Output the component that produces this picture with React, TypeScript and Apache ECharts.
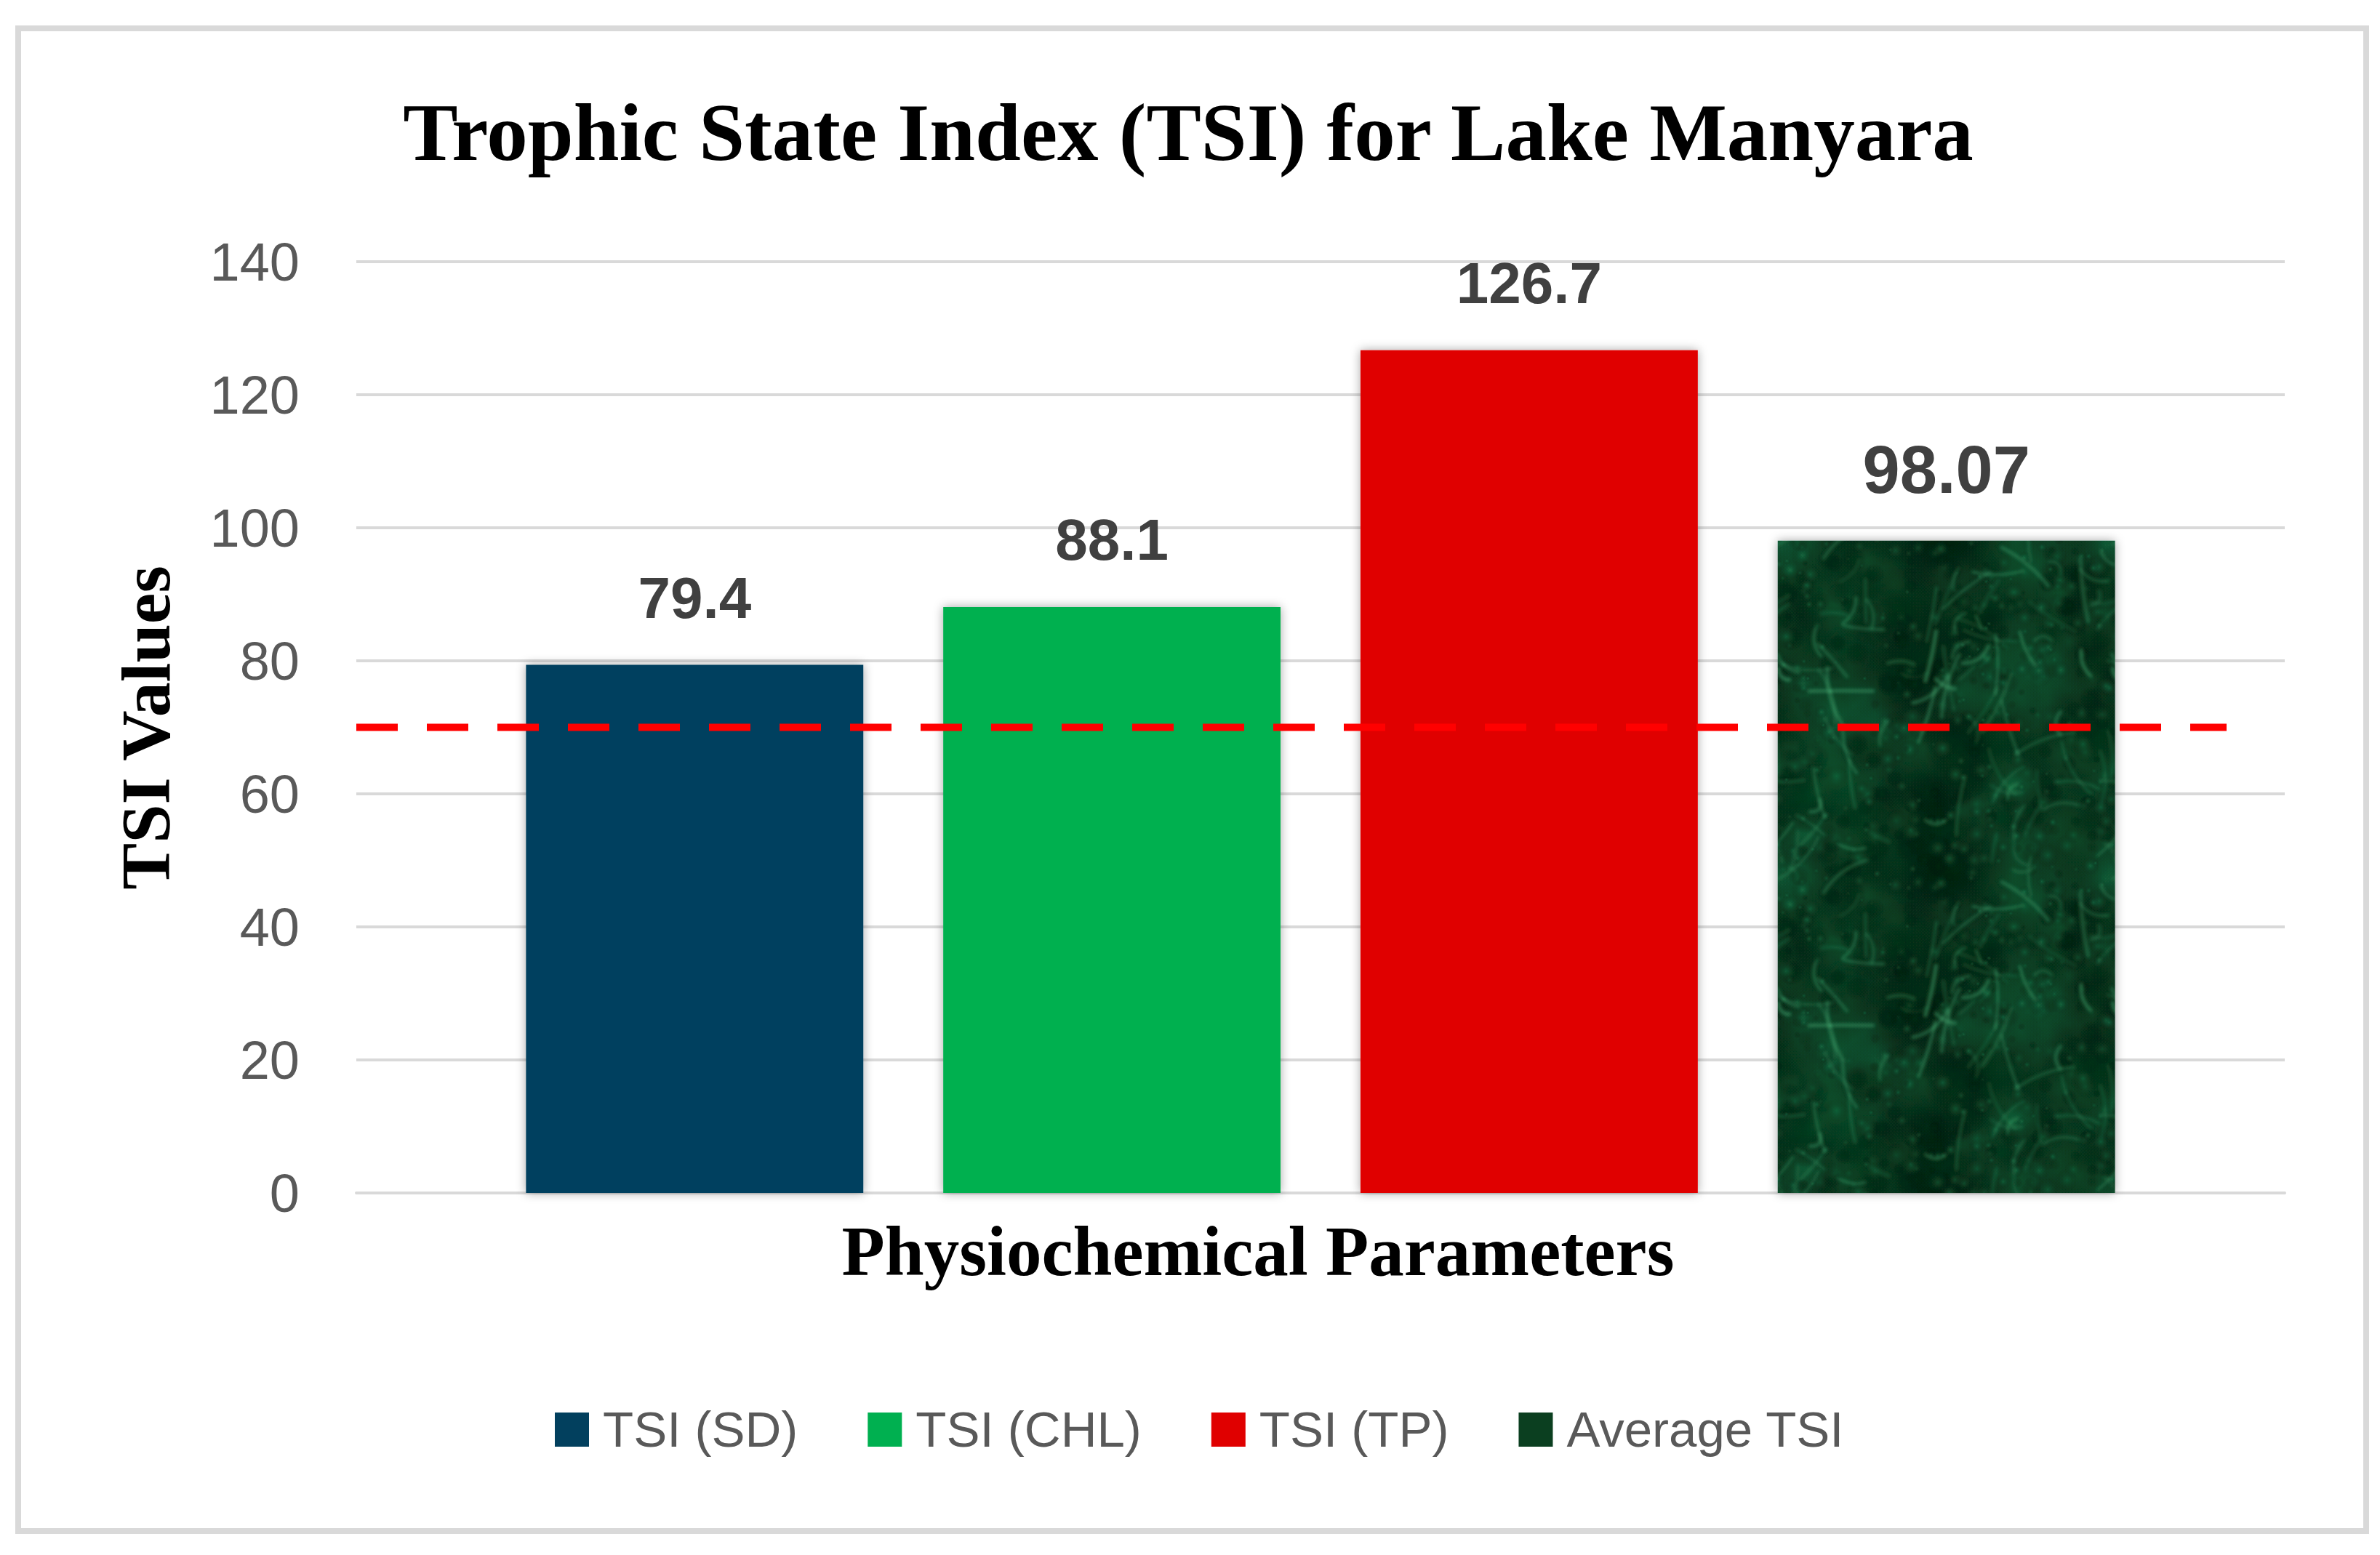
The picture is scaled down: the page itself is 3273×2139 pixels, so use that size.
import React, { useEffect, useRef } from 'react';
import * as echarts from 'echarts';

// ---------- data ----------
const chartTitle = 'Trophic State Index (TSI) for Lake Manyara';
const xAxisTitle = 'Physiochemical Parameters';
const yAxisTitle = 'TSI Values';
const categories = ['Physiochemical Parameters'];
const seriesNames = ['TSI (SD)', 'TSI (CHL)', 'TSI (TP)', 'Average TSI'];
const tsiValues = [79.4, 88.1, 126.7, 98.07];
const yMin = 0;
const yMax = 140;
const yStep = 20;
const thresholdValue = 70;

// ---------- styles ----------
const solidColors = ['#02405E', '#00B050', '#E00000', '#0B3F20'];
const TEX = 460;

function makeTexture(): string {
  const W = TEX, H = TEX;
  const c = document.createElement('canvas');
  c.width = W;
  c.height = H;
  const ctx = c.getContext('2d');
  if (!ctx) return '';
  ctx.fillStyle = '#0A5C34';
  ctx.fillRect(0, 0, W, H);
  let s = 424242;
  const rnd = () => {
    s = (s * 1103515245 + 12345) & 0x7fffffff;
    return s / 0x7fffffff;
  };
  const wrap = (fn: (ox: number, oy: number) => void) => {
    for (const ox of [-W, 0, W]) for (const oy of [-H, 0, H]) fn(ox, oy);
  };
  for (let i = 0; i < 220; i++) {
    const x = rnd() * W, y = rnd() * H, r = 20 + rnd() * 80;
    const light = rnd() < 0.45;
    const col = light
      ? `rgba(30,140,85,${0.12 + rnd() * 0.22})`
      : `rgba(0,48,18,${0.18 + rnd() * 0.3})`;
    wrap((ox, oy) => {
      const g = ctx.createRadialGradient(x + ox, y + oy, 0, x + ox, y + oy, r);
      g.addColorStop(0, col);
      g.addColorStop(1, 'rgba(0,0,0,0)');
      ctx.fillStyle = g;
      ctx.beginPath();
      ctx.arc(x + ox, y + oy, r, 0, Math.PI * 2);
      ctx.fill();
    });
  }
  for (let i = 0; i < 500; i++) {
    const x = rnd() * W, y = rnd() * H, r = 4 + rnd() * 14;
    const light = rnd() < 0.5;
    const col = light
      ? `rgba(35,150,95,${0.15 + rnd() * 0.25})`
      : `rgba(0,45,18,${0.2 + rnd() * 0.3})`;
    wrap((ox, oy) => {
      const g = ctx.createRadialGradient(x + ox, y + oy, 0, x + ox, y + oy, r);
      g.addColorStop(0, col);
      g.addColorStop(1, 'rgba(0,0,0,0)');
      ctx.fillStyle = g;
      ctx.beginPath();
      ctx.arc(x + ox, y + oy, r, 0, Math.PI * 2);
      ctx.fill();
    });
  }
  ctx.lineCap = 'round';
  ctx.filter = 'blur(2px)';
  for (let i = 0; i < 90; i++) {
    const x = rnd() * W, y = rnd() * H, len = 20 + rnd() * 70, a = rnd() * Math.PI * 2;
    const bend = (rnd() - 0.5) * 30;
    const x2 = x + Math.cos(a) * len, y2 = y + Math.sin(a) * len;
    const cx = (x + x2) / 2 + Math.cos(a + Math.PI / 2) * bend;
    const cy = (y + y2) / 2 + Math.sin(a + Math.PI / 2) * bend;
    ctx.strokeStyle = `rgba(80,185,125,${0.15 + rnd() * 0.3})`;
    ctx.lineWidth = 2 + rnd() * 4;
    wrap((ox, oy) => {
      ctx.beginPath();
      ctx.moveTo(x + ox, y + oy);
      ctx.quadraticCurveTo(cx + ox, cy + oy, x2 + ox, y2 + oy);
      ctx.stroke();
    });
  }
  ctx.filter = 'none';
  return c.toDataURL('image/png');
}

export default function App() {
  const ref = useRef<HTMLDivElement>(null);

  useEffect(() => {
    if (!ref.current) return;
    const chart = echarts.init(ref.current, undefined, { renderer: 'svg' });
    const tex = makeTexture();
    const barFills: any[] = [
      solidColors[0],
      solidColors[1],
      solidColors[2],
      { image: tex, repeat: 'repeat', imageWidth: TEX, imageHeight: TEX },
    ];

    const gridLeft = 490;
    const gridRight = 3273 - 3142;
    const gridTop = 360;
    const gridBottom = 2139 - 1641;
    const lineEnd = (3062 - 490) / (3142 - 490);

    const barSeries = seriesNames.map((name, i) => ({
      name,
      type: 'bar',
      xAxisIndex: 0,
      yAxisIndex: 0,
      data: [tsiValues[i]],
      barGap: '23.7%',
      barCategoryGap: '17.6%',
      z: 2,
      itemStyle: {
        color: barFills[i],
        shadowBlur: 14,
        shadowColor: 'rgba(0,0,0,0.35)',
      },
      label: {
        show: true,
        position: 'top',
        distance: 52,
        fontSize: i === 3 ? 92 : 80,
        fontWeight: 'bold',
        color: '#404040',
        fontFamily: '"Liberation Sans", Arial, sans-serif',
      },
      emphasis: { disabled: true },
    }));

    chart.setOption({
      animation: false,
      backgroundColor: '#ffffff',
      grid: { left: gridLeft, right: gridRight, top: gridTop, bottom: gridBottom, containLabel: false },
      xAxis: [
        {
          type: 'category',
          data: categories,
          gridIndex: 0,
          axisLine: { show: true, lineStyle: { color: '#D9D9D9', width: 4 } },
          axisTick: { show: false },
          axisLabel: { show: false },
          splitLine: { show: false },
        },
        { type: 'value', gridIndex: 0, min: 0, max: 1, show: false },
      ],
      yAxis: {
        type: 'value',
        min: yMin,
        max: yMax,
        interval: yStep,
        axisLine: { show: false },
        axisTick: { show: false },
        axisLabel: {
          margin: 78,
          fontSize: 74,
          color: '#595959',
          fontFamily: '"Liberation Sans", Arial, sans-serif',
        },
        splitLine: { show: true, lineStyle: { color: '#D9D9D9', width: 4 } },
      },
      legend: {
        left: 758,
        top: 1927,
        itemWidth: 47,
        itemHeight: 47,
        itemGap: 96,
        icon: 'rect',
        selectedMode: false,
        textStyle: {
          fontSize: 69,
          color: '#595959',
          fontFamily: '"Liberation Sans", Arial, sans-serif',
          padding: [0, 0, 0, 14],
        },
        data: seriesNames.map((n, i) => ({ name: n, itemStyle: { color: solidColors[i] } })),
      },
      series: [
        ...barSeries,
        {
          name: 'threshold',
          type: 'line',
          xAxisIndex: 1,
          yAxisIndex: 0,
          data: [
            [0, thresholdValue],
            [lineEnd, thresholdValue],
          ],
          symbol: 'none',
          z: 5,
          silent: true,
          lineStyle: { color: '#FF0000', width: 10, type: [57, 40], cap: 'butt' },
          emphasis: { disabled: true },
        },
      ],
      graphic: [
        {
          type: 'rect',
          z: -10,
          shape: { x: 25, y: 39, width: 3229, height: 2067 },
          style: { fill: 'none', stroke: '#D9D9D9', lineWidth: 8 },
        },
        {
          type: 'text',
          x: 1634,
          y: 181,
          style: {
            text: chartTitle,
            font: 'bold 113px "Liberation Serif", "Times New Roman", serif',
            fill: '#000000',
            textAlign: 'center',
            textVerticalAlign: 'middle',
          },
        },
        {
          type: 'text',
          x: 200,
          y: 1001,
          rotation: Math.PI / 2,
          style: {
            text: yAxisTitle,
            font: 'bold 96px "Liberation Serif", "Times New Roman", serif',
            fill: '#000000',
            textAlign: 'center',
            textVerticalAlign: 'middle',
          },
        },
        {
          type: 'text',
          x: 1730,
          y: 1721,
          style: {
            text: xAxisTitle,
            font: 'bold 97px "Liberation Serif", "Times New Roman", serif',
            fill: '#000000',
            textAlign: 'center',
            textVerticalAlign: 'middle',
          },
        },
      ],
    });

    return () => {
      chart.dispose();
    };
  }, []);

  return (
    <div
      ref={ref}
      style={{ position: 'fixed', left: 0, top: 0, width: 3273, height: 2139, background: '#ffffff' }}
    />
  );
}
